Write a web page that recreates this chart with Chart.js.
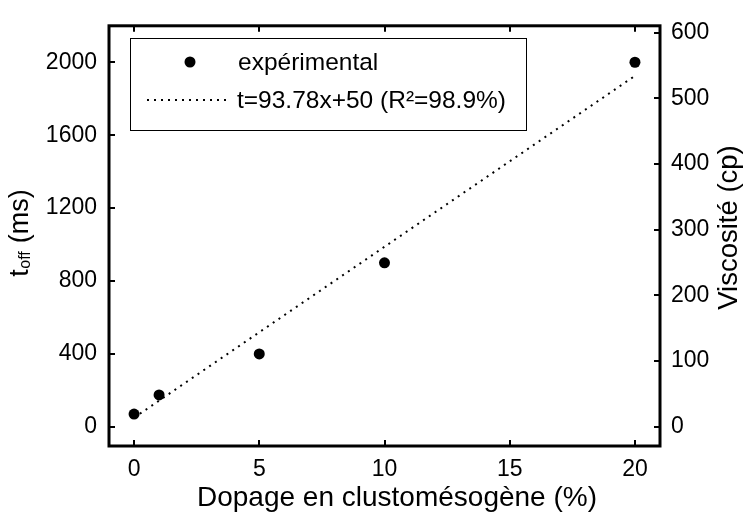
<!DOCTYPE html>
<html><head><meta charset="utf-8">
<script src="https://cdn.jsdelivr.net/npm/chart.js@4"></script>
<style>html,body{margin:0;padding:0;background:#fff}</style>
</head><body>
<canvas id="c" width="745" height="516" style="display:block;width:745px;height:516px"></canvas>
<script>
// ---- data ----
const dopage = [0, 1, 5, 10, 20];            // % clustomésogène
const toff = [70, 175, 400, 900, 2000];       // ms
const fitX = [0, 20];                         // fit line end points (x)
const fitY = [50, 1925.6];                    // fit line end points (t)
const xTicks = [0, 5, 10, 15, 20];
const leftTicks = [0, 400, 800, 1200, 1600, 2000];
const rightTicks = [0, 100, 200, 300, 400, 500, 600];
const seriesLabels = ['expérimental', 't=93.78x+50 (R²=98.9%)'];
const xTitle = 'Dopage en clustomésogène (%)';
const leftTitleParts = ['t', 'off', ' (ms)'];
const rightTitle = 'Viscosité (cp)';

const FONT = "'Liberation Sans', Arial, Helvetica, sans-serif";
const DASH = [2, 5];

const framePlugin = {
  id: 'frame',
  afterDatasetsDraw(chart) {
    const { ctx, chartArea: a, scales } = chart;
    ctx.save();
    ctx.strokeStyle = '#000';
    ctx.fillStyle = '#000';
    // inward ticks
    ctx.lineWidth = 2;
    const L = 6;
    ctx.beginPath();
    scales.x.ticks.forEach(t => {
      const p = Math.round(scales.x.getPixelForValue(t.value));
      ctx.moveTo(p, a.bottom); ctx.lineTo(p, a.bottom - L);
      ctx.moveTo(p, a.top); ctx.lineTo(p, a.top + L);
    });
    scales.y.ticks.forEach(t => {
      const p = Math.round(scales.y.getPixelForValue(t.value));
      ctx.moveTo(a.left, p); ctx.lineTo(a.left + L, p);
    });
    scales.y2.ticks.forEach(t => {
      const p = Math.round(scales.y2.getPixelForValue(t.value));
      ctx.moveTo(a.right, p); ctx.lineTo(a.right - L, p);
    });
    ctx.stroke();
    // frame
    ctx.lineWidth = 3;
    ctx.strokeRect(a.left, a.top, a.right - a.left, a.bottom - a.top);

    // legend box
    const ds = chart.data.datasets;
    ctx.fillStyle = '#fff';
    ctx.fillRect(130.5, 38.5, 396, 92);
    ctx.lineWidth = 1;
    ctx.strokeRect(130.5, 38.5, 396, 92);
    ctx.fillStyle = '#000';
    ctx.font = '24.5px ' + FONT;
    ctx.textBaseline = 'middle';
    ctx.textAlign = 'left';
    // row 1 : marker
    ctx.beginPath();
    ctx.arc(190, 62, ds[0].pointRadius, 0, Math.PI * 2);
    ctx.fill();
    ctx.fillText(ds[0].label, 238, 63);
    // row 2 : dotted line
    ctx.save();
    ctx.lineWidth = ds[1].borderWidth;
    ctx.setLineDash(ds[1].borderDash);
    ctx.beginPath();
    ctx.moveTo(147, 100); ctx.lineTo(228, 100);
    ctx.stroke();
    ctx.restore();
    ctx.fillText(ds[1].label, 237, 101);

    // x title
    ctx.save();
    ctx.font = '28px ' + FONT;
    ctx.textAlign = 'center';
    ctx.textBaseline = 'alphabetic';
    ctx.fillText(xTitle, 397, 506);
    ctx.restore();

    // left title with subscript
    ctx.save();
    ctx.textBaseline = 'alphabetic';
    const big = '27px ' + FONT, small = '16px ' + FONT;
    ctx.font = big; const w0 = ctx.measureText(leftTitleParts[0]).width;
    ctx.font = small; const w1 = ctx.measureText(leftTitleParts[1]).width;
    ctx.font = big; const w2 = ctx.measureText(leftTitleParts[2]).width;
    const tot = w0 + w1 + w2;
    ctx.translate(28, 233.5);
    ctx.rotate(-Math.PI / 2);
    let x0 = -tot / 2;
    ctx.font = big; ctx.fillText(leftTitleParts[0], x0, 0); x0 += w0;
    ctx.font = small; ctx.fillText(leftTitleParts[1], x0 + 0.5, 2); x0 += w1 + 1;
    ctx.font = big; ctx.fillText(leftTitleParts[2], x0, 0);
    ctx.restore();

    // right title
    ctx.save();
    ctx.font = '27.5px ' + FONT;
    ctx.textBaseline = 'alphabetic';
    ctx.textAlign = 'center';
    ctx.translate(737, 227.5);
    ctx.rotate(-Math.PI / 2);
    ctx.fillText(rightTitle, 0, 0);
    ctx.restore();

    ctx.restore();
  }
};

const tickFmt = v => String(v);

new Chart(document.getElementById('c'), {
  type: 'scatter',
  data: {
    datasets: [
      {
        label: seriesLabels[0],
        data: dopage.map((x, i) => ({ x, y: toff[i] })),
        pointRadius: 5.5,
        pointBackgroundColor: '#000',
        pointBorderColor: '#000',
        pointBorderWidth: 0,
        showLine: false,
        yAxisID: 'y'
      },
      {
        label: seriesLabels[1],
        data: fitX.map((x, i) => ({ x, y: fitY[i] })),
        showLine: true,
        pointRadius: 0,
        borderColor: '#000',
        borderWidth: 2,
        borderDash: DASH,
        borderCapStyle: 'butt',
        fill: false,
        yAxisID: 'y',
        order: 1
      }
    ]
  },
  options: {
    responsive: false,
    animation: false,
    devicePixelRatio: 1,
    layout: { padding: { top: 13, left: 0, right: 0, bottom: 0 } },
    plugins: { legend: { display: false }, tooltip: { enabled: false } },
    scales: {
      x: {
        type: 'linear', position: 'bottom', min: -1, max: 21,
        afterBuildTicks: s => { s.ticks = xTicks.map(v => ({ value: v })); },
        afterFit: s => { s.height = 70; },
        grid: { display: false, drawTicks: false }, border: { display: false },
        ticks: { color: '#000', font: { family: FONT, size: 23 }, padding: 10, callback: tickFmt }
      },
      y: {
        type: 'linear', position: 'left', min: -105, max: 2200,
        afterBuildTicks: s => { s.ticks = leftTicks.map(v => ({ value: v })); },
        afterFit: s => { s.width = 109; },
        grid: { display: false, drawTicks: false }, border: { display: false },
        ticks: { color: '#000', font: { family: FONT, size: 23 }, padding: 12, callback: tickFmt }
      },
      y2: {
        type: 'linear', position: 'right', min: -29.5, max: 610.5,
        afterBuildTicks: s => { s.ticks = rightTicks.map(v => ({ value: v })); },
        afterFit: s => { s.width = 85; },
        grid: { display: false, drawTicks: false }, border: { display: false },
        ticks: { color: '#000', font: { family: FONT, size: 23 }, padding: 11, callback: tickFmt }
      }
    }
  },
  plugins: [framePlugin]
});
</script>
</body></html>
